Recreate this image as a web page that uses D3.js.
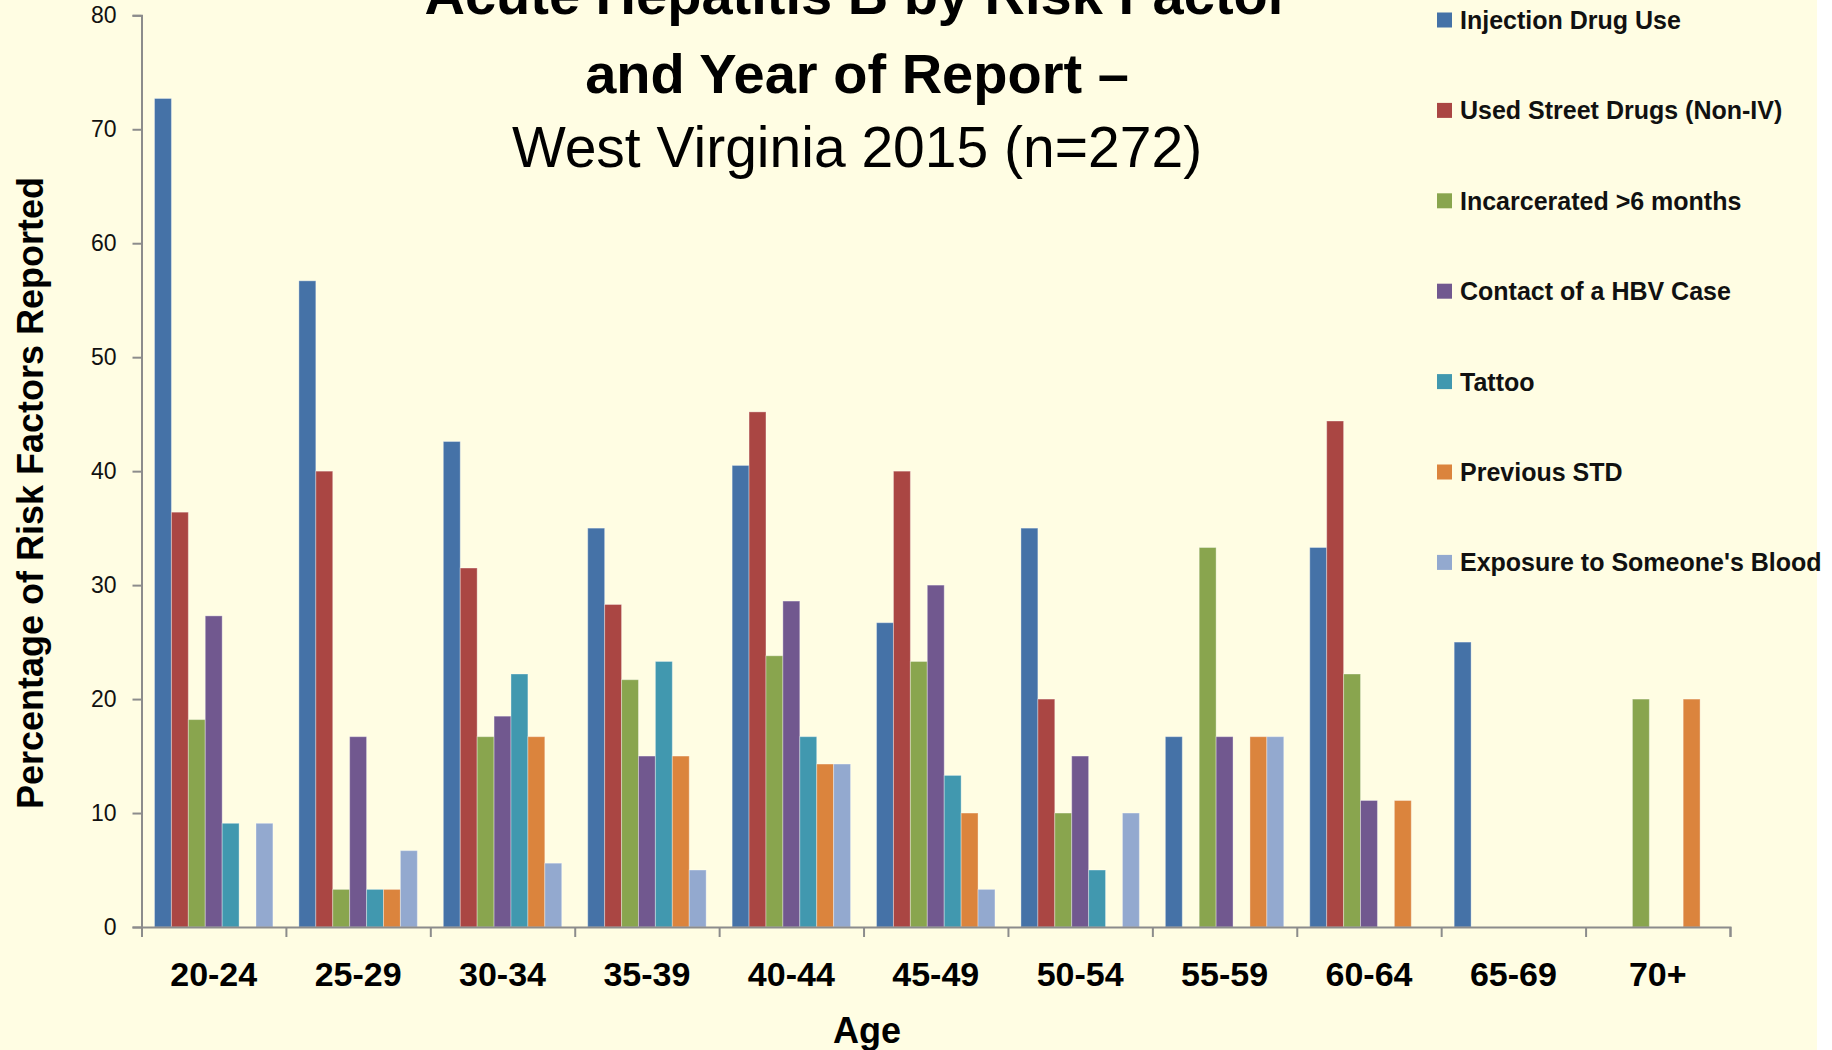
<!DOCTYPE html>
<html>
<head>
<meta charset="utf-8">
<script src="https://cdn.jsdelivr.net/npm/d3@7"></script>
<style>
  body { margin: 0; background: #fffde3; }
  #chart { width: 1832px; height: 1050px; overflow: hidden; }
</style>
</head>
<body>
<div id="chart"></div>
<script>
// age groups on the x axis
let ages = ['20-24', '25-29', '30-34', '35-39', '40-44', '45-49', '50-54', '55-59', '60-64', '65-69', '70+']

// one array per risk factor (percent)
let injectionDrugUse = [72.7, 56.7, 42.6, 35.0, 40.5, 26.7, 35.0, 16.7, 33.3, 25.0, 0]
let streetDrugs      = [36.4, 40.0, 31.5, 28.3, 45.2, 40.0, 20.0, 0, 44.4, 0, 0]
let incarcerated     = [18.2, 3.3, 16.7, 21.7, 23.8, 23.3, 10.0, 33.3, 22.2, 0, 20.0]
let hbvContact       = [27.3, 16.7, 18.5, 15.0, 28.6, 30.0, 15.0, 16.7, 11.1, 0, 0]
let tattoo           = [9.1, 3.3, 22.2, 23.3, 16.7, 13.3, 5.0, 0, 0, 0, 0]
let previousStd      = [0, 3.3, 16.7, 15.0, 14.3, 10.0, 0, 16.7, 11.1, 0, 20.0]
let bloodExposure    = [9.1, 6.7, 5.6, 5.0, 14.3, 3.3, 10.0, 16.7, 0, 0, 0]

let seriesNames = ['Injection Drug Use', 'Used Street Drugs (Non-IV)', 'Incarcerated >6 months',
  'Contact of a HBV Case', 'Tattoo', 'Previous STD', "Exposure to Someone's Blood"]
let seriesValues = [injectionDrugUse, streetDrugs, incarcerated, hbvContact, tattoo, previousStd, bloodExposure]
let colors = ['#4572a7', '#aa4643', '#89a54e', '#71588f', '#4198af', '#db843d', '#93a9cf']
let yTicks = [0, 10, 20, 30, 40, 50, 60, 70, 80]

let data = ages.map((a, i) => {
  let row = { age: a }
  seriesNames.forEach((s, j) => { row[s] = seriesValues[j][i] })
  return row
})

var width = 1832
var height = 1050
var plotLeft = 141.5, plotRight = 1730, plotBottom = 927, plotTop = 15.3

var svg = d3.select('#chart').append('svg')
  .attr('width', width)
  .attr('height', height)

svg.append('rect').attr('width', width).attr('height', height).attr('fill', '#fffde3')
svg.append('rect').attr('x', 1817).attr('width', width - 1817).attr('height', height).attr('fill', '#ffffff')

var x0 = d3.scaleBand()
  .domain(ages)
  .range([plotLeft, plotRight])
  .paddingInner(0.18)
  .paddingOuter(0.09)

var x1 = d3.scaleBand()
  .domain(seriesNames)
  .range([0, x0.bandwidth()])

var y = d3.scaleLinear()
  .domain([0, 80])
  .range([plotBottom, plotTop])

var color = d3.scaleOrdinal().domain(seriesNames).range(colors)

// bars
svg.append('g').selectAll('g')
  .data(data)
  .enter().append('g')
  .attr('transform', d => 'translate(' + x0(d.age) + ',0)')
  .selectAll('rect')
  .data(d => seriesNames.map(s => ({ key: s, value: d[s] })).filter(e => e.value > 0))
  .enter().append('rect')
  .attr('x', d => x1(d.key))
  .attr('width', x1.bandwidth())
  .attr('y', d => y(d.value))
  .attr('height', d => plotBottom - y(d.value))
  .attr('fill', d => color(d.key))
  .attr('stroke', 'rgba(255,255,255,0.35)')
  .attr('stroke-width', 1)

// y axis
var yAxis = d3.axisLeft(y).tickValues(yTicks).tickSize(9).tickPadding(16).tickFormat(d3.format('d'))
var ya = svg.append('g')
  .attr('transform', 'translate(' + plotLeft + ',0)')
  .call(yAxis)
ya.selectAll('text').style('font-family', 'Liberation Sans, Arial, sans-serif').style('font-size', '23px').attr('fill', '#111')
ya.selectAll('line, path').attr('stroke', '#8c8c8c').attr('stroke-width', 2)

// x axis: ticks at the group boundaries
var xb = d3.scaleLinear().domain([0, ages.length]).range([plotLeft, plotRight])
var xa = svg.append('g')
  .attr('transform', 'translate(0,' + plotBottom + ')')
  .call(d3.axisBottom(xb).ticks(ages.length).tickSize(10).tickFormat(''))
xa.selectAll('line, path').attr('stroke', '#8c8c8c').attr('stroke-width', 2)

svg.append('g').selectAll('text')
  .data(ages)
  .enter().append('text')
  .attr('x', d => x0(d) + x0.bandwidth() / 2)
  .attr('y', 986)
  .attr('text-anchor', 'middle')
  .style('font-family', 'Liberation Sans, Arial, sans-serif')
  .style('font-weight', 'bold')
  .style('font-size', '34px')
  .text(d => d)

// axis titles
svg.append('text')
  .attr('x', 867).attr('y', 1043)
  .attr('text-anchor', 'middle')
  .style('font-family', 'Liberation Sans, Arial, sans-serif')
  .style('font-weight', 'bold')
  .style('font-size', '36px')
  .text('Age')

svg.append('text')
  .attr('transform', 'translate(43,493) rotate(-90)')
  .attr('text-anchor', 'middle')
  .style('font-family', 'Liberation Sans, Arial, sans-serif')
  .style('font-weight', 'bold')
  .style('font-size', '36px')
  .text('Percentage of Risk Factors Reported')

// title
let titleLines = [
  { t: 'Acute Hepatitis B by Risk Factor', y: 14, bold: true },
  { t: 'and Year of Report \u2013', y: 93, bold: true },
  { t: 'West Virginia 2015 (n=272)', y: 167, bold: false }
]
svg.append('g').selectAll('text')
  .data(titleLines)
  .enter().append('text')
  .attr('x', 857)
  .attr('y', d => d.y)
  .attr('text-anchor', 'middle')
  .style('font-family', 'Liberation Sans, Arial, sans-serif')
  .style('font-weight', d => d.bold ? 'bold' : 'normal')
  .style('font-size', d => d.bold ? '56px' : '57px')
  .text(d => d.t)

// legend
var legend = svg.append('g').selectAll('g')
  .data(seriesNames)
  .enter().append('g')
  .attr('transform', (d, i) => 'translate(1437,' + (20 + i * 90.4) + ')')

legend.append('rect')
  .attr('x', 0).attr('y', -7.5)
  .attr('width', 15).attr('height', 15)
  .attr('fill', d => color(d))

legend.append('text')
  .attr('x', 23).attr('y', 9)
  .style('font-family', 'Liberation Sans, Arial, sans-serif')
  .style('font-weight', 'bold')
  .style('font-size', '25px')
  .attr('fill', '#111')
  .text(d => d)
</script>
</body>
</html>
